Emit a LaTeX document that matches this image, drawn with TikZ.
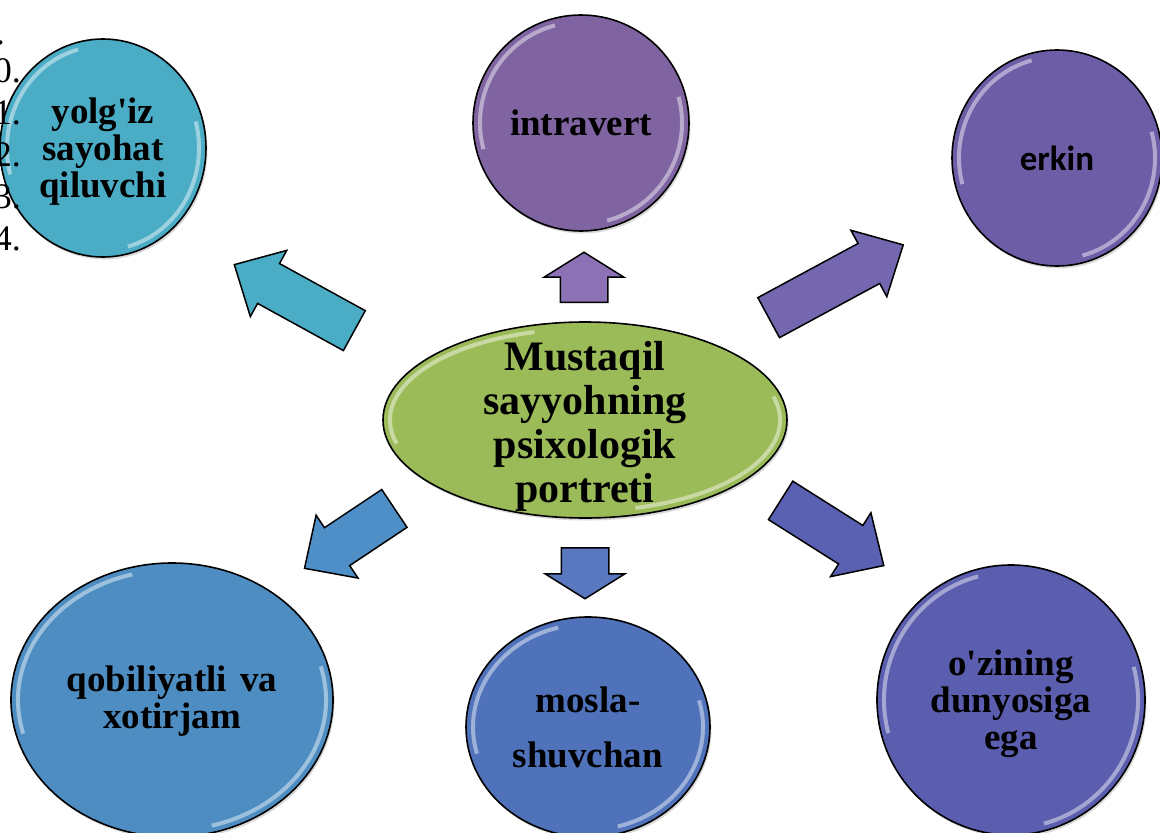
\documentclass[tikz,border=0pt]{standalone}
\usepackage{fontspec}
\setmainfont{Liberation Serif}[Ligatures=TeXOff]
\newfontfamily\calibrifont{Carlito}
\usepackage{tikz}
\usetikzlibrary{positioning}
\usetikzlibrary{calc,shapes.geometric,shapes.arrows,shadows}
\definecolor{aquaC}{HTML}{4BACC6}
\definecolor{violetC}{HTML}{8064A2}
\definecolor{freeC}{HTML}{6C5DA6}
\definecolor{calmC}{HTML}{4E8DC2}
\definecolor{adaptC}{HTML}{4F72BA}
\definecolor{worldC}{HTML}{5B5DAE}
\definecolor{coreC}{HTML}{9BBB59}
\definecolor{upC}{HTML}{8C72B4}
\definecolor{freeArrC}{HTML}{7566B0}
\definecolor{calmArrC}{HTML}{4F8FC8}
\definecolor{downC}{HTML}{5A78C0}
\definecolor{worldArrC}{HTML}{5A60B2}
% lines of a bubble, set a little lower than the centre
\newcommand{\lowlines}[2]{\raisebox{-#1}[\height][\depth]{\begin{tabular}{@{}c@{}}#2\end{tabular}}}
\tikzset{
  gloss/.style={path picture={
    \draw[white, opacity=.45, line width=4pt]
      let \p1=(path picture bounding box.north east), \p2=(path picture bounding box.south west),
          \n1={(\x1-\x2)/2-7pt}, \n2={(\y1-\y2)/2-7pt} in
      ($(path picture bounding box.center)+(105:\n1 and \n2)$)
        arc[start angle=105, end angle=195, x radius=\n1, y radius=\n2]
      ($(path picture bounding box.center)+(-75:\n1 and \n2)$)
        arc[start angle=-75, end angle=15, x radius=\n1, y radius=\n2];}},
  bubble/.style={ellipse, draw=black, line width=1.6pt, inner sep=0pt, align=center,
    font=\fontsize{37}{37}\selectfont\bfseries, gloss,
    drop shadow={shadow xshift=1.5pt, shadow yshift=-2.5pt, opacity=.3}},
  blockarr/.style={single arrow, draw=black, line width=1.5pt, inner xsep=0pt, inner ysep=22pt,
    anchor=tail, single arrow head extend=15pt, single arrow tip angle=88},
  stubarr/.style={blockarr, inner ysep=23pt, single arrow head extend=16pt,
    single arrow tip angle=116},
  numtext/.style={anchor=base east, inner sep=0pt, font=\fontsize{36}{40}\selectfont}
}

\begin{document}
\begin{tikzpicture}[x=1pt,y=-1pt]
\useasboundingbox (0,0) rectangle (1160,833);

% Arrows out of the centre
\node[blockarr, fill=aquaC, rotate=151.2, minimum height=137pt] (toTrav) at (355,331) {};
\node[stubarr, fill=upC, rotate=90, minimum height=50pt] (toIntro) at (584,303) {};
\node[blockarr, fill=freeArrC, rotate=28.4, minimum height=153pt] (toFree) at (768,318) {};
\node[blockarr, fill=calmArrC, rotate=213.7, minimum height=108pt] (toCalm) at (395,508) {};
\node[stubarr, fill=downC, rotate=270, minimum height=51pt] (toAdapt) at (585,547) {};
\node[blockarr, fill=worldArrC, rotate=-32.3, minimum height=122pt] (toWorld) at (780,500) {};

% Centre
\node[bubble, fill=coreC, minimum width=404pt, minimum height=196pt, inner ysep=-22pt,
  font=\fontsize{42}{44}\selectfont\bfseries] (core) at (585,420)
  {\lowlines{8pt}{Mustaqil\\sayyohning\\psixologik\\portreti}};

% Top row
\node[bubble, fill=aquaC, minimum width=206pt, minimum height=218pt] (trav) at (103,148)
  {\lowlines{5pt}{yolg'iz\\sayohat\\qiluvchi}};
\node[bubble, fill=violetC, minimum width=216pt, minimum height=216pt] (intro) at (581,123)
  {intravert};
\node[bubble, fill=freeC, minimum width=210pt, minimum height=216pt,
  font=\calibrifont\bfseries\fontsize{35}{40}\selectfont] (free) at (1057,158) {erkin};

% Bottom row
\node[bubble, fill=calmC, minimum width=322pt, minimum height=274pt] (calm) at (172,700)
  {\lowlines{3pt}{qobiliyatli\hspace{13pt}va\\xotirjam}};
\node[bubble, fill=adaptC, minimum width=244pt, minimum height=220pt] (adapt) at (588,727)
  {mosla-\\[18pt]shuvchan};
\node[bubble, fill=worldC, minimum width=268pt, minimum height=270pt] (world) at (1011,700)
  {\lowlines{5pt}{o'zining\\dunyosiga\\ega}};

% List numbers on the left edge
\node[numtext] (numdot) at (5,44) {.};
\foreach \n [count=\i] in {0,...,4}
  \node[numtext] (num\n) at (21,40+42*\i) {\n.};

\end{tikzpicture}
\end{document}
